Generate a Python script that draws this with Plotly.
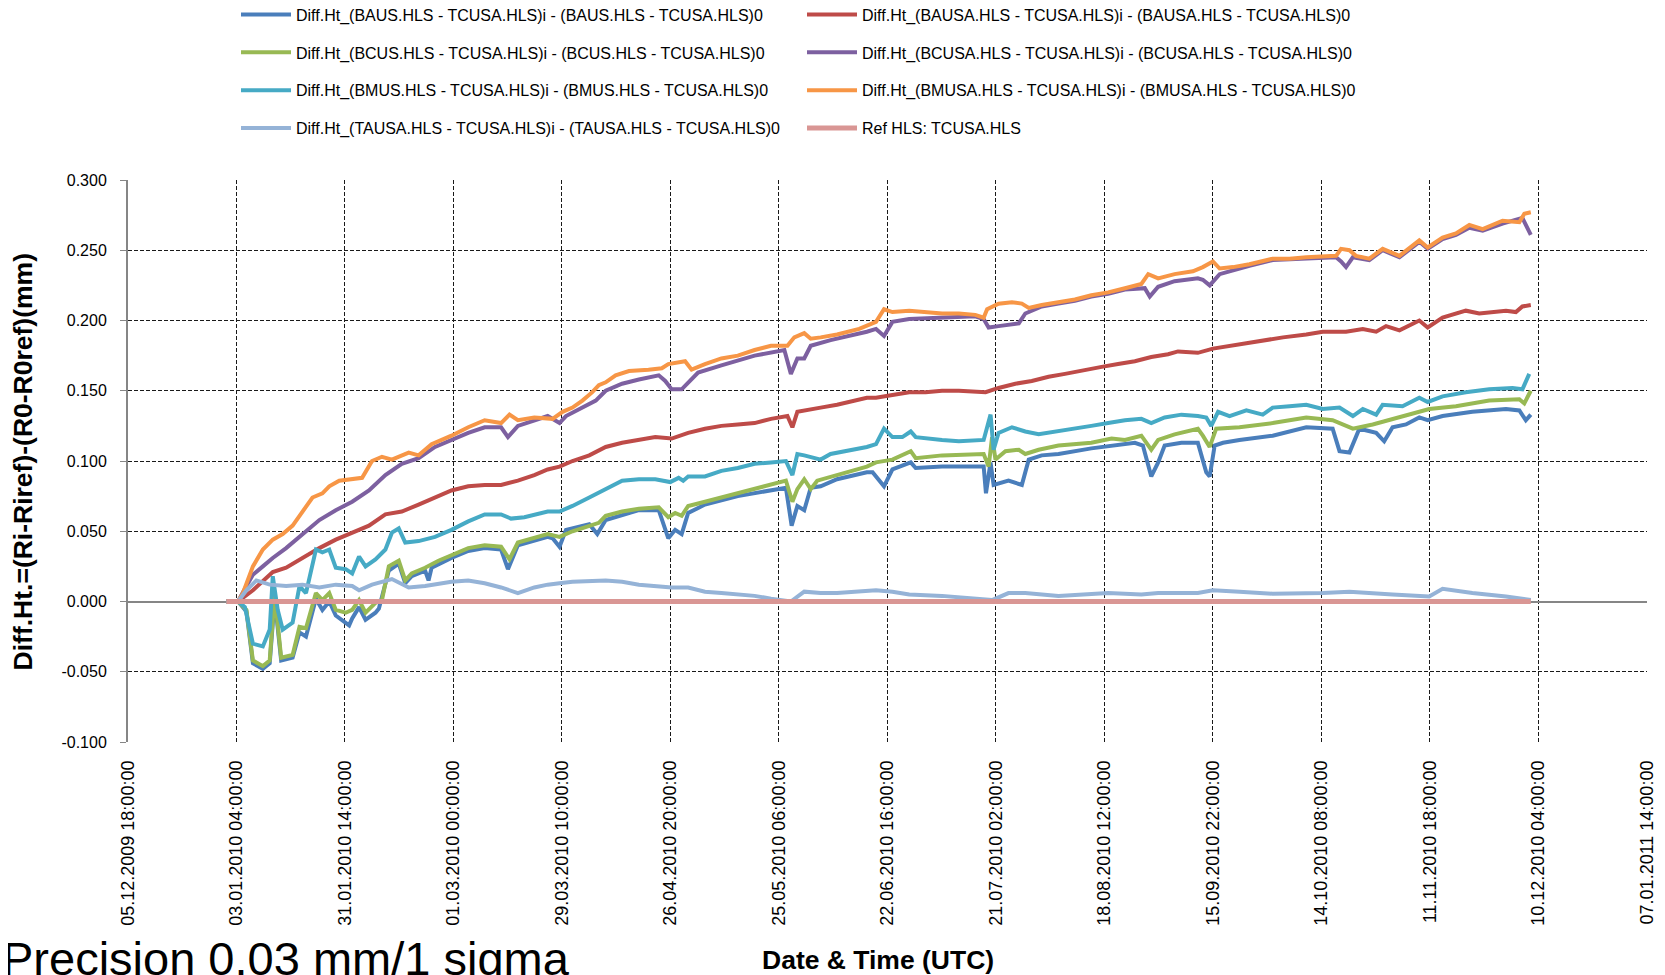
import pandas as pd
import plotly.graph_objects as go

# ---------------- data (days relative to 03.01.2010 04:00) ----------------
T0 = pd.Timestamp("2010-01-03 04:00")

baus_d = [-2.6, 0.4, 2.6, 4.3, 6.9, 8.7, 10.0, 11.7, 14.7, 16.5, 18.2, 20.8, 22.5, 24.3, 26.0, 28.6, 29.5, 30.3,
          32.1, 33.8, 36.4, 37.3, 39.9, 42.5, 44.2, 45.9, 49.4, 50.3, 51.1, 56.3, 60.7, 65.0, 69.3, 71.1, 71.9, 73.7,
          81.5, 82.8, 84.6, 86.3, 92.4, 94.5, 96.7, 105.4, 110.6, 113.1, 114.9, 116.6, 118.3, 122.7, 131.3, 140.0,
          143.9, 145.4, 146.9, 148.7, 150.4, 153.0, 157.3, 165.1, 166.6, 169.6, 171.8, 176.6, 177.9, 184.8, 195.7,
          196.3, 197.5, 198.3, 202.2, 205.7, 207.5, 210.9, 215.3, 223.9, 229.2, 235.3, 237.4, 239.6, 241.4, 243.1,
          247.5, 251.8, 254.0, 254.9, 256.2, 258.4, 262.7, 271.4, 280.2, 287.1, 288.9, 291.5, 294.1, 298.5, 300.6,
          302.8, 306.3, 309.8, 312.0, 315.9, 323.7, 332.5, 336.0, 337.7, 339.0]
baus_v = [0.000, 0.000, -0.007, -0.044, -0.048, -0.044, 0.002, -0.042, -0.040, -0.022, -0.025, 0.002, -0.006, 0.000,
          -0.010, -0.015, -0.017, -0.012, -0.004, -0.013, -0.008, -0.005, 0.022, 0.027, 0.013, 0.018, 0.022, 0.015,
          0.024, 0.031, 0.036, 0.038, 0.037, 0.023, 0.028, 0.040, 0.046, 0.045, 0.039, 0.051, 0.055, 0.048, 0.058,
          0.065, 0.065, 0.045, 0.051, 0.048, 0.063, 0.069, 0.075, 0.079, 0.081, 0.054, 0.068, 0.065, 0.081, 0.082,
          0.087, 0.092, 0.092, 0.082, 0.094, 0.099, 0.095, 0.096, 0.096, 0.077, 0.099, 0.083, 0.086, 0.083, 0.101,
          0.104, 0.105, 0.109, 0.111, 0.113, 0.111, 0.089, 0.099, 0.111, 0.113, 0.113, 0.092, 0.089, 0.111, 0.113,
          0.115, 0.118, 0.124, 0.123, 0.107, 0.106, 0.123, 0.120, 0.114, 0.124, 0.126, 0.131, 0.129, 0.132, 0.135,
          0.137, 0.136, 0.129, 0.133]

bausa_d = [-2.6, 0.4, 4.3, 6.9, 9.5, 13.0, 17.3, 21.7, 26.0, 30.3, 34.7, 39.0, 43.3, 47.7, 52.0, 56.3, 60.7, 65.0,
           69.3, 73.7, 78.0, 81.5, 84.6, 88.0, 92.4, 96.7, 101.0, 105.4, 109.7, 114.0, 118.3, 122.7, 127.0, 131.3,
           135.7, 140.0, 144.3, 145.6, 146.9, 153.0, 157.3, 165.1, 167.5, 171.8, 176.2, 180.5, 184.8, 189.2, 193.5,
           196.2, 199.6, 204.0, 208.3, 212.7, 217.0, 222.2, 226.6, 230.9, 235.3, 239.6, 244.0, 246.6, 251.8, 255.75,
           262.7, 268.8, 274.1, 280.2, 284.5, 290.6, 295.0, 298.5, 301.1, 304.6, 309.8, 312.0, 315.9, 322.0, 325.5,
           332.5, 335.1, 336.8, 339.0]
bausa_v = [0.000, 0.000, 0.008, 0.015, 0.021, 0.024, 0.031, 0.038, 0.044, 0.049, 0.054, 0.062, 0.064, 0.069, 0.074,
           0.079, 0.082, 0.083, 0.083, 0.086, 0.090, 0.094, 0.096, 0.100, 0.104, 0.110, 0.113, 0.115, 0.117, 0.116,
           0.120, 0.123, 0.125, 0.126, 0.127, 0.130, 0.132, 0.124, 0.135, 0.138, 0.140, 0.145, 0.145, 0.147, 0.149,
           0.149, 0.150, 0.150, 0.149, 0.149, 0.152, 0.155, 0.157, 0.160, 0.162, 0.165, 0.167, 0.169, 0.171, 0.174,
           0.176, 0.178, 0.177, 0.180, 0.183, 0.186, 0.188, 0.190, 0.192, 0.192, 0.194, 0.192, 0.196, 0.193, 0.200,
           0.195, 0.202, 0.207, 0.205, 0.207, 0.206, 0.210, 0.211]

bcus_d = [-2.6, 0.4, 2.6, 4.3, 6.9, 8.7, 10.0, 11.7, 14.7, 16.5, 18.2, 20.8, 22.5, 24.3, 26.0, 28.6, 30.3, 32.1,
          33.8, 36.4, 38.1, 39.9, 42.5, 44.2, 45.9, 49.4, 52.9, 56.3, 60.7, 65.0, 69.3, 71.5, 73.7, 81.5, 84.6, 88.0,
          92.4, 94.9, 96.7, 101.0, 105.4, 110.6, 113.1, 114.9, 116.6, 118.3, 122.7, 131.3, 140.0, 143.9, 145.6,
          146.9, 148.7, 150.4, 152.1, 157.3, 165.1, 167.5, 171.8, 176.6, 177.9, 184.8, 195.7, 197.0, 197.9, 198.8,
          201.4, 204.9, 206.6, 210.1, 215.3, 223.9, 229.2, 232.7, 237.0, 239.6, 241.4, 245.7, 251.8, 253.1, 254.9,
          256.6, 262.7, 271.4, 280.2, 287.1, 292.4, 297.6, 305.4, 312.4, 319.4, 328.1, 336.0, 337.3, 339.0]
bcus_v = [0.000, 0.000, -0.006, -0.042, -0.046, -0.042, 0.005, -0.040, -0.038, -0.018, -0.019, 0.006, 0.001, 0.006,
          -0.006, -0.008, -0.006, 0.001, -0.008, -0.001, 0.001, 0.025, 0.029, 0.015, 0.020, 0.024, 0.029, 0.033,
          0.038, 0.040, 0.039, 0.030, 0.042, 0.048, 0.046, 0.050, 0.054, 0.056, 0.061, 0.064, 0.066, 0.067, 0.060,
          0.063, 0.061, 0.068, 0.071, 0.077, 0.083, 0.086, 0.071, 0.080, 0.087, 0.080, 0.086, 0.090, 0.096, 0.099,
          0.101, 0.107, 0.102, 0.104, 0.105, 0.096, 0.117, 0.101, 0.107, 0.108, 0.105, 0.108, 0.111, 0.113, 0.116,
          0.115, 0.118, 0.108, 0.115, 0.119, 0.123, 0.118, 0.110, 0.123, 0.124, 0.127, 0.131, 0.129, 0.123, 0.126,
          0.132, 0.137, 0.139, 0.143, 0.144, 0.141, 0.150]

bcusa_d = [-2.6, 0.4, 2.6, 4.3, 6.9, 9.5, 13.0, 17.3, 21.7, 26.0, 30.3, 34.7, 39.0, 43.3, 47.7, 52.0, 56.3, 60.7,
           65.0, 69.3, 71.1, 73.7, 81.5, 84.6, 86.3, 90.6, 94.1, 96.7, 101.0, 105.4, 110.6, 112.3, 114.0, 116.6,
           118.3, 120.9, 127.0, 135.7, 143.5, 145.2, 146.9, 148.7, 150.4, 155.6, 165.1, 167.5, 169.6, 171.8, 176.2,
           184.8, 193.5, 195.7, 197.0, 199.6, 204.9, 206.6, 210.9, 215.3, 219.6, 223.9, 228.3, 232.7, 237.9, 239.2,
           241.4, 245.7, 251.8, 253.1, 254.9, 257.5, 261.0, 265.3, 271.4, 280.2, 288.0, 289.3, 290.6, 292.4, 296.7,
           300.2, 304.6, 309.8, 312.0, 315.9, 319.4, 322.9, 326.4, 331.6, 336.8, 337.7, 339.0]
bcusa_v = [0.000, 0.000, 0.011, 0.019, 0.025, 0.031, 0.038, 0.048, 0.058, 0.065, 0.071, 0.079, 0.090, 0.098, 0.102,
           0.110, 0.115, 0.120, 0.124, 0.124, 0.117, 0.125, 0.132, 0.127, 0.132, 0.138, 0.143, 0.150, 0.155, 0.158,
           0.161, 0.157, 0.151, 0.151, 0.156, 0.163, 0.168, 0.175, 0.179, 0.162, 0.173, 0.173, 0.182, 0.186, 0.192,
           0.194, 0.189, 0.199, 0.201, 0.202, 0.203, 0.201, 0.195, 0.196, 0.198, 0.205, 0.210, 0.212, 0.214, 0.217,
           0.219, 0.222, 0.223, 0.217, 0.224, 0.228, 0.230, 0.229, 0.225, 0.233, 0.236, 0.239, 0.243, 0.244, 0.245,
           0.242, 0.238, 0.245, 0.243, 0.250, 0.245, 0.256, 0.251, 0.258, 0.261, 0.266, 0.264, 0.269, 0.273, 0.268,
           0.261]

bmus_d = [-2.6, 0.4, 2.2, 4.3, 6.9, 8.7, 9.5, 10.8, 12.1, 14.7, 16.5, 18.2, 20.8, 22.5, 24.3, 26.0, 28.6, 30.3,
          32.1, 33.8, 36.4, 39.0, 40.7, 42.5, 44.2, 47.7, 52.0, 56.3, 60.7, 65.0, 69.3, 71.9, 75.4, 81.5, 84.6, 88.0,
          92.4, 96.7, 101.0, 105.4, 109.7, 113.6, 115.8, 117.0, 118.3, 122.7, 127.0, 131.3, 135.7, 140.0, 143.9,
          145.6, 146.9, 148.7, 153.0, 155.6, 165.1, 167.5, 169.6, 171.8, 174.4, 176.6, 177.9, 184.8, 189.2, 195.7,
          197.5, 198.3, 199.6, 203.1, 206.6, 210.1, 215.3, 219.6, 223.9, 228.3, 232.7, 237.0, 239.6, 243.1, 247.5,
          251.8, 254.0, 255.3, 257.1, 260.1, 264.5, 268.8, 271.4, 275.8, 280.2, 284.5, 288.9, 292.4, 295.0, 298.5,
          300.2, 305.4, 309.8, 312.0, 315.9, 322.0, 328.1, 334.2, 336.8, 338.6]
bmus_v = [0.000, 0.000, -0.004, -0.030, -0.032, -0.020, 0.018, -0.006, -0.020, -0.015, 0.011, 0.006, 0.037, 0.035,
          0.037, 0.024, 0.023, 0.020, 0.032, 0.025, 0.030, 0.037, 0.049, 0.052, 0.042, 0.043, 0.046, 0.051, 0.057,
          0.062, 0.062, 0.059, 0.060, 0.064, 0.064, 0.068, 0.074, 0.080, 0.086, 0.087, 0.087, 0.085, 0.088, 0.086,
          0.089, 0.089, 0.093, 0.095, 0.098, 0.099, 0.100, 0.090, 0.105, 0.104, 0.101, 0.105, 0.110, 0.112, 0.123,
          0.117, 0.117, 0.121, 0.117, 0.115, 0.114, 0.115, 0.133, 0.108, 0.120, 0.124, 0.121, 0.119, 0.121, 0.123,
          0.125, 0.127, 0.129, 0.130, 0.127, 0.131, 0.133, 0.132, 0.131, 0.125, 0.135, 0.132, 0.136, 0.133, 0.138,
          0.139, 0.140, 0.137, 0.138, 0.132, 0.137, 0.133, 0.140, 0.139, 0.145, 0.142, 0.146, 0.149, 0.151, 0.152,
          0.151, 0.162]

bmusa_d = [-2.6, 0.4, 1.7, 4.3, 6.9, 9.5, 12.1, 14.7, 17.3, 19.9, 22.5, 24.3, 26.9, 30.3, 32.9, 35.5, 38.1, 40.7,
           45.1, 47.7, 51.1, 56.3, 60.7, 65.0, 69.3, 71.5, 73.7, 78.0, 82.8, 85.4, 88.0, 90.6, 93.2, 94.9, 96.7, 99.3,
           102.8, 107.9, 111.4, 113.1, 117.5, 119.2, 122.7, 127.0, 131.3, 135.7, 140.0, 144.3, 146.1, 148.7, 150.4,
           153.0, 157.3, 163.1, 167.5, 169.6, 171.8, 176.2, 180.5, 184.8, 189.2, 193.5, 195.7, 196.6, 199.6, 203.1,
           205.7, 207.5, 210.9, 215.3, 219.6, 223.9, 228.3, 232.7, 237.0, 238.8, 241.4, 245.7, 250.5, 253.1, 255.75,
           257.5, 261.0, 265.3, 271.4, 275.8, 280.2, 288.0, 289.3, 291.5, 293.2, 296.7, 300.2, 304.6, 309.8, 312.0,
           315.9, 319.4, 322.9, 326.4, 331.6, 336.0, 337.3, 339.0]
bmusa_v = [0.000, 0.000, 0.006, 0.025, 0.037, 0.044, 0.048, 0.054, 0.064, 0.074, 0.077, 0.082, 0.086, 0.087, 0.088,
           0.100, 0.103, 0.101, 0.106, 0.104, 0.112, 0.118, 0.124, 0.129, 0.127, 0.133, 0.129, 0.131, 0.130, 0.135,
           0.138, 0.143, 0.149, 0.154, 0.156, 0.161, 0.164, 0.165, 0.166, 0.169, 0.171, 0.165, 0.169, 0.173, 0.175,
           0.179, 0.182, 0.182, 0.188, 0.191, 0.187, 0.188, 0.190, 0.194, 0.199, 0.208, 0.206, 0.207, 0.206, 0.205,
           0.205, 0.204, 0.202, 0.208, 0.212, 0.213, 0.212, 0.209, 0.211, 0.213, 0.215, 0.218, 0.220, 0.223, 0.226,
           0.233, 0.230, 0.233, 0.235, 0.238, 0.242, 0.237, 0.238, 0.240, 0.244, 0.244, 0.245, 0.246, 0.251, 0.250,
           0.246, 0.244, 0.251, 0.246, 0.257, 0.252, 0.259, 0.262, 0.268, 0.265, 0.271, 0.270, 0.276, 0.277]

tausa_d = [-2.6, 0.4, 2.6, 5.2, 8.7, 13.0, 17.3, 21.7, 26.0, 30.3, 32.1, 35.5, 40.7, 45.1, 49.4, 56.3, 60.7, 65.0,
           69.3, 73.7, 78.0, 81.5, 84.6, 88.0, 96.7, 101.0, 105.4, 109.7, 114.0, 118.3, 122.7, 127.0, 131.3, 135.7,
           140.0, 145.2, 148.7, 153.0, 157.3, 165.1, 167.5, 171.8, 176.2, 184.8, 193.5, 197.9, 202.2, 206.6, 215.3,
           223.9, 228.3, 237.0, 241.4, 251.8, 255.75, 262.7, 271.4, 284.5, 291.5, 302.8, 312.4, 315.9, 323.7, 332.5,
           339.0]
tausa_v = [0.000, 0.000, 0.008, 0.015, 0.012, 0.011, 0.012, 0.010, 0.012, 0.011, 0.008, 0.012, 0.016, 0.010, 0.011,
           0.014, 0.015, 0.013, 0.010, 0.006, 0.010, 0.012, 0.013, 0.014, 0.015, 0.014, 0.012, 0.011, 0.010, 0.010,
           0.007, 0.006, 0.005, 0.004, 0.002, 0.000, 0.007, 0.006, 0.006, 0.007, 0.008, 0.007, 0.005, 0.004, 0.002,
           0.001, 0.006, 0.006, 0.004, 0.005, 0.006, 0.005, 0.006, 0.006, 0.008, 0.007, 0.0055, 0.006, 0.007, 0.005,
           0.0036, 0.009, 0.006, 0.0036, 0.001]

ref_d = [-2.6, 339.0]
ref_v = [0.0, 0.0]

names = [
    "Diff.Ht_(BAUS.HLS - TCUSA.HLS)i - (BAUS.HLS - TCUSA.HLS)0",
    "Diff.Ht_(BAUSA.HLS - TCUSA.HLS)i - (BAUSA.HLS - TCUSA.HLS)0",
    "Diff.Ht_(BCUS.HLS - TCUSA.HLS)i - (BCUS.HLS - TCUSA.HLS)0",
    "Diff.Ht_(BCUSA.HLS - TCUSA.HLS)i - (BCUSA.HLS - TCUSA.HLS)0",
    "Diff.Ht_(BMUS.HLS - TCUSA.HLS)i - (BMUS.HLS - TCUSA.HLS)0",
    "Diff.Ht_(BMUSA.HLS - TCUSA.HLS)i - (BMUSA.HLS - TCUSA.HLS)0",
    "Diff.Ht_(TAUSA.HLS - TCUSA.HLS)i - (TAUSA.HLS - TCUSA.HLS)0",
    "Ref HLS: TCUSA.HLS",
]
colors = ["#4A7EBB", "#BE4B48", "#98B954", "#7D60A0", "#46AAC5", "#F79646", "#95B3D7", "#D99694"]
series_days = [baus_d, bausa_d, bcus_d, bcusa_d, bmus_d, bmusa_d, tausa_d, ref_d]
series_vals = [baus_v, bausa_v, bcus_v, bcusa_v, bmus_v, bmusa_v, tausa_v, ref_v]

y_ticks = [-0.1, -0.05, 0.0, 0.05, 0.1, 0.15, 0.2, 0.25, 0.3]
x_start = "2009-12-05 18:00"
x_end = "2011-01-07 14:00"
tick_step_hours = 682  # 28 days 10 hours

# ---------------- figure ----------------
fig = go.Figure()
for i, (nm, col, dd, vv) in enumerate(zip(names, colors, series_days, series_vals)):
    xs = [T0 + pd.Timedelta(days=d) for d in dd]
    fig.add_trace(go.Scatter(
        x=xs, y=vv, mode="lines", name=nm,
        line=dict(color=col, width=5 if i == 7 else 4),
        legend="legend" if i % 2 == 0 else "legend2",
        legendgroup=f"g{i}",
    ))

# page body has an 8px default margin; positions below are given in page pixels
OFF = 8
W, H = 1665 - OFF, 975 - OFF
plot_left, plot_right, plot_top, plot_bottom = 128.3, 1646.7, 180, 742.5
L = plot_left - OFF
R = W - (plot_right - OFF)
T = plot_top - OFF
B = H - (plot_bottom - OFF)
plot_w = W - L - R
plot_h = H - T - B


def px_x(p):  # page x pixel -> paper
    return (p - plot_left) / plot_w


def px_y(p):  # page y pixel -> paper
    return (plot_bottom - p) / plot_h


legend_font = dict(family="Liberation Sans, Arial", size=16, color="#000000")
common_leg = dict(orientation="v", xref="container", yref="paper", xanchor="left", yanchor="top",
                  font=legend_font, bgcolor="rgba(0,0,0,0)", tracegroupgap=14, itemwidth=50)

fig.update_layout(
    width=W, height=H,
    margin=dict(l=L, r=R, t=T, b=B, autoexpand=False),
    paper_bgcolor="white", plot_bgcolor="white",
    showlegend=True,
    legend=dict(x=(236 - OFF) / W, y=px_y(-2.5), **common_leg),
    legend2=dict(x=(802 - OFF) / W, y=px_y(-2.5), **common_leg),
    font=dict(family="Liberation Sans, Arial", color="#000000"),
)

end_pad = pd.Timestamp(x_end) + pd.Timedelta(minutes=30)
fig.update_xaxes(
    type="date",
    range=[pd.Timestamp(x_start), end_pad],
    tick0=x_start, dtick=tick_step_hours * 3600 * 1000,
    tickformat="%d.%m.%Y %H:%M:%S",
    tickangle=-90,
    tickfont=dict(family="Liberation Sans, Arial", size=18, color="#000000"),
    showgrid=True, gridcolor="#1a1a1a", gridwidth=1, griddash="4px,2px",
    showline=False, zeroline=False, ticks="", ticklabelstandoff=14,
)
fig.update_yaxes(
    range=[-0.1, 0.3],
    tickvals=y_ticks, ticktext=[f"{v:.3f}" for v in y_ticks],
    tickfont=dict(family="Liberation Sans, Arial", size=16, color="#000000"),
    showgrid=True, gridcolor="#1a1a1a", gridwidth=1, griddash="4px,2px",
    zeroline=True, zerolinecolor="#868686", zerolinewidth=2,
    showline=True, linecolor="#868686", linewidth=2,
    ticks="outside", ticklen=6, tickcolor="#868686", tickwidth=1,
    ticklabelstandoff=10,
)

fig.add_annotation(
    text="<b>Diff.Ht.=(Ri-Riref)-(R0-R0ref)(mm)</b>", textangle=-90,
    xref="paper", yref="paper", x=px_x(23), y=px_y(462), showarrow=False,
    font=dict(family="Liberation Sans, Arial", size=26.5, color="#000000"),
    xanchor="center", yanchor="middle",
)
fig.add_annotation(
    text="<b>Date & Time (UTC)</b>",
    xref="paper", yref="paper", x=px_x(878), y=px_y(961), showarrow=False,
    font=dict(family="Liberation Sans, Arial", size=26.5, color="#000000"),
    xanchor="center", yanchor="middle",
)
fig.add_annotation(
    text="Precision 0.03 mm/1 sigma",
    xref="paper", yref="paper", x=px_x(0), y=px_y(931), showarrow=False,
    font=dict(family="Liberation Sans, Arial", size=47, color="#000000"),
    xanchor="left", yanchor="top",
)

fig.write_html("out.html")
